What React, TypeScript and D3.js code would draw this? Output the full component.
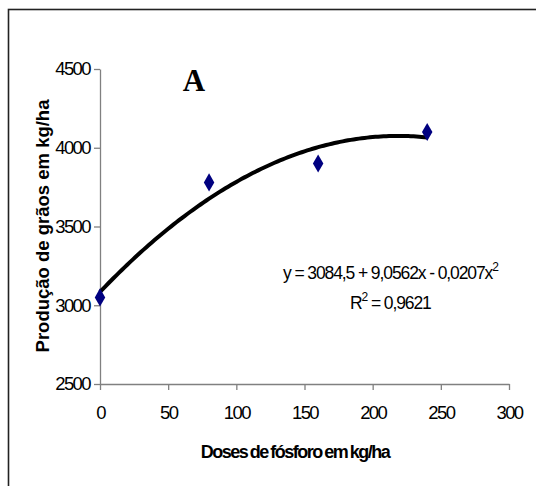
import React, { useEffect, useRef } from 'react';
import * as d3 from 'd3';

const doses = [0, 80, 160, 240];
const yields = [3050, 3780, 3900, 4100];
const xTicks = [0, 50, 100, 150, 200, 250, 300];
const yTicks = [2500, 3000, 3500, 4000, 4500];
// coefficients of the fitted trend line shown on the chart
const coef = [3084.5, 9.0562, -0.0207];

const W = 536;
const H = 486;
const tickFont = 'Liberation Sans, Arial, sans-serif';

export default function App() {
  const ref = useRef<SVGSVGElement>(null);

  useEffect(() => {
    const svg = d3.select(ref.current);
    svg.selectAll('*').remove();

    const x = d3.scaleLinear().domain([0, 300]).range([100, 509]);
    const y = d3.scaleLinear().domain([2500, 4500]).range([384, 69]);

    // outer frame
    svg.append('rect')
      .attr('x', 8.5).attr('y', 9.5)
      .attr('width', 600).attr('height', 600)
      .attr('fill', 'none').attr('stroke', '#222').attr('stroke-width', 1.6);

    const axisColor = '#808080';

    const xAxis = svg.append('g')
      .attr('transform', 'translate(0,' + y(2500) + ')')
      .call(d3.axisBottom(x).tickValues(xTicks).tickFormat(d3.format('d')).tickSize(6).tickSizeOuter(0).tickPadding(16));
    xAxis.select('.domain').attr('stroke', axisColor).attr('stroke-width', 1.3);
    xAxis.selectAll('.tick line').attr('stroke', axisColor).attr('stroke-width', 1.3);
    xAxis.selectAll('.tick text')
      .attr('fill', '#000')
      .attr('font-family', tickFont)
      .attr('font-size', 18.5)
      .attr('letter-spacing', -1.6);

    const yAxis = svg.append('g')
      .attr('transform', 'translate(' + x(0) + ',0)')
      .call(d3.axisLeft(y).tickValues(yTicks).tickFormat(d3.format('d')).tickSize(6).tickSizeOuter(0).tickPadding(4));
    yAxis.select('.domain').attr('stroke', axisColor).attr('stroke-width', 1.3);
    yAxis.selectAll('.tick line').attr('stroke', axisColor).attr('stroke-width', 1.3);
    yAxis.selectAll('.tick text')
      .attr('fill', '#000')
      .attr('font-family', tickFont)
      .attr('font-size', 18.5)
      .attr('letter-spacing', -1.6);

    // trend line
    const xs = d3.range(0, 240.01, 2);
    const line = d3.line<number>()
      .x((d) => x(d))
      .y((d) => y(coef[0] + coef[1] * d + coef[2] * d * d));
    svg.append('path')
      .attr('d', line(xs))
      .attr('fill', 'none')
      .attr('stroke', '#000')
      .attr('stroke-width', 4);

    // points
    const diamond = d3.symbol().type(d3.symbolDiamond).size(95);
    svg.append('g')
      .selectAll('path')
      .data(doses)
      .enter()
      .append('path')
      .attr('d', diamond)
      .attr('transform', (d, i) => 'translate(' + x(d) + ',' + y(yields[i]) + ')')
      .attr('fill', '#000080');

    // axis titles
    svg.append('text')
      .attr('x', 295).attr('y', 458)
      .attr('text-anchor', 'middle')
      .attr('font-family', tickFont)
      .attr('font-weight', 'bold')
      .attr('font-size', 18)
      .attr('letter-spacing', -1.5)
      .attr('word-spacing', -1)
      .text('Doses de fósforo em kg/ha');

    svg.append('text')
      .attr('transform', 'translate(49,226) rotate(-90)')
      .attr('text-anchor', 'middle')
      .attr('font-family', tickFont)
      .attr('font-weight', 'bold')
      .attr('font-size', 18.5)
      .text('Produção de grãos em kg/ha');

    svg.append('text')
      .attr('x', 194).attr('y', 91)
      .attr('text-anchor', 'middle')
      .attr('font-family', 'Liberation Serif, Times New Roman, serif')
      .attr('font-weight', 'bold')
      .attr('font-size', 31)
      .text('A');

    // equation
    const eq = svg.append('text')
      .attr('x', 283).attr('y', 279)
      .attr('font-family', tickFont)
      .attr('font-size', 17.5)
      .attr('letter-spacing', -1.1);
    eq.append('tspan').text('y = 3084,5 + 9,0562x - 0,0207x');
    eq.append('tspan').attr('dy', -8).attr('font-size', 12).text('2');

    const r2 = svg.append('text')
      .attr('x', 350).attr('y', 309)
      .attr('font-family', tickFont)
      .attr('font-size', 17.5)
      .attr('letter-spacing', -1.1);
    r2.append('tspan').text('R');
    r2.append('tspan').attr('dy', -8).attr('font-size', 12).text('2');
    r2.append('tspan').attr('dy', 8).text(' = 0,9621');
  }, []);

  return (
    <div style={{ position: 'absolute', left: 0, top: 0 }}>
      <svg ref={ref} width={W} height={H} style={{ display: 'block', background: '#fff' }} />
    </div>
  );
}
